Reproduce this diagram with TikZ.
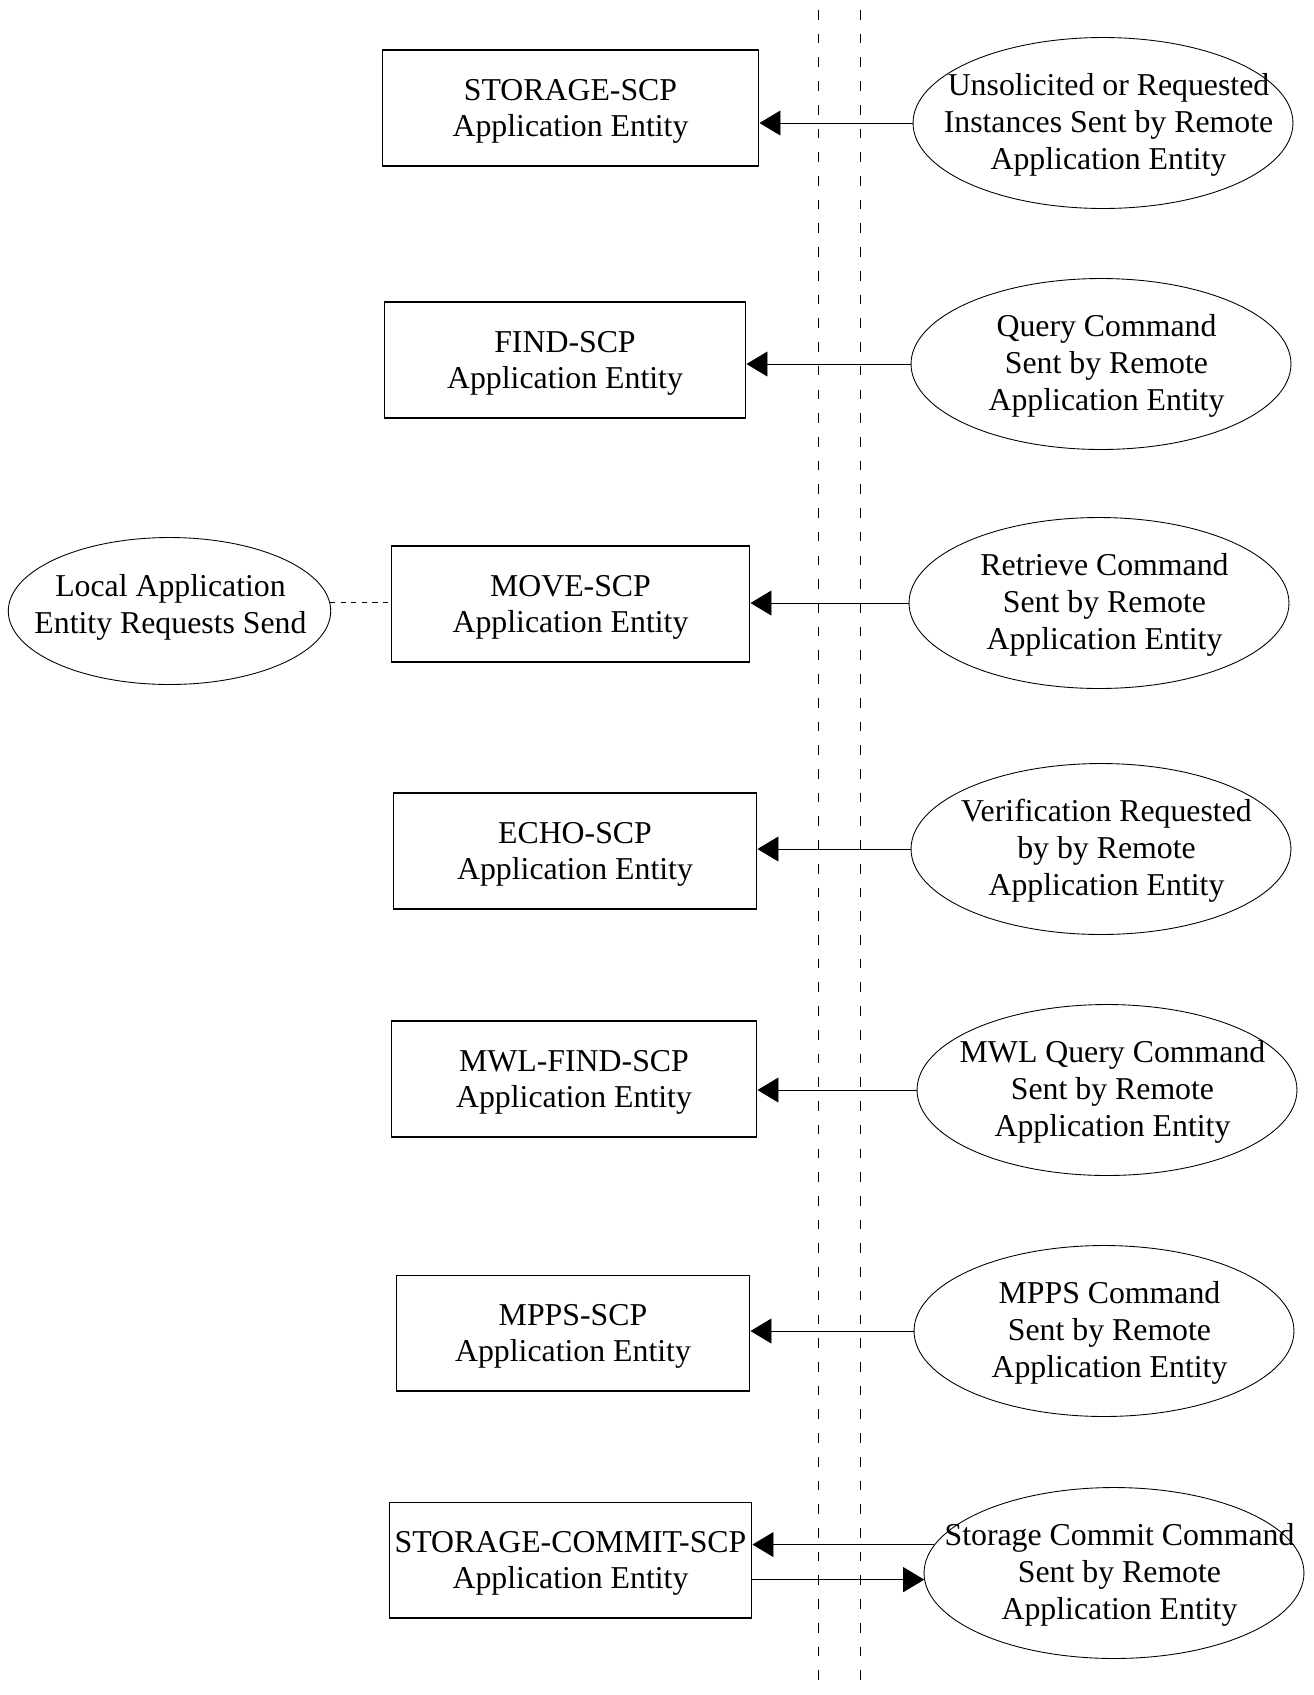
\documentclass[tikz,border=0pt]{standalone}
\usepackage{fontspec}
\setmainfont{Liberation Serif}
\usetikzlibrary{shapes.geometric, arrows.meta}
% text inside an ellipse should not widen it: #1 = shift right, #2 = raise
\newcommand{\elltext}[3]{\makebox[0pt]{\hspace{#1}\raisebox{#2}[\height][\depth]{\begin{tabular}{@{}c@{}}#3\end{tabular}}}}
\newcommand{\remtext}[1]{\elltext{0.22cm}{-1.4pt}{#1}}

\begin{document}
\begin{tikzpicture}[x=0.02cm, y=-0.02cm,
	font=\fontsize{18.1}{21}\selectfont,
	aebox/.style={draw, line width=0.6pt, align=center, minimum height=2.32cm, inner sep=2pt, text depth=-3.4pt, execute at begin node={\rule{0pt}{17.5pt}}},
	remote/.style={draw, ellipse, line width=0.5pt, minimum width=7.6cm, minimum height=3.42cm, inner sep=0pt},
	msg/.style={line width=0.5pt, -{Triangle[length=4.2mm, width=5mm]}}]
\useasboundingbox (0,0) rectangle (1314,1695);

% network boundary
\foreach \x in {818,860}{
	\draw[line width=0.5pt, dash pattern=on 5.5pt off 8pt](\x,10)--(\x,1690);
}

% local application entities
\node[aebox, minimum width=7.54cm] (storage) at (570.5,108) {STORAGE-SCP\\Application Entity};
\node[aebox, minimum width=7.24cm] (find) at (565,360) {FIND-SCP\\Application Entity};
\node[aebox, minimum width=7.18cm] (move) at (570.5,604) {MOVE-SCP\\Application Entity};
\node[aebox, minimum width=7.28cm] (echo) at (575,851) {ECHO-SCP\\Application Entity};
\node[aebox, minimum width=7.32cm] (mwl) at (574,1079) {MWL-FIND-SCP\\Application Entity};
\node[aebox, minimum width=7.08cm] (mpps) at (573,1333) {MPPS-SCP\\Application Entity};
\node[aebox, minimum width=7.26cm] (commit) at (570.5,1560) {STORAGE-COMMIT-SCP\\Application Entity};

% real-world activities
\node[remote, minimum width=6.45cm, minimum height=2.94cm] (localsend) at (169.5,611) {\elltext{0.04cm}{1.7pt}{Local Application\\Entity Requests Send}};
\node[remote] (unsolicited) at (1103,123) {\remtext{Unsolicited or Requested\\Instances Sent by Remote\\Application Entity}};
\node[remote] (query) at (1101,364) {\remtext{Query Command\\Sent by Remote\\Application Entity}};
\node[remote] (retrieve) at (1099,603) {\remtext{Retrieve Command\\Sent by Remote\\Application Entity}};
\node[remote] (verify) at (1101,849) {\remtext{Verification Requested\\by by Remote\\Application Entity}};
\node[remote] (mwlquery) at (1107,1090) {\remtext{MWL Query Command\\Sent by Remote\\Application Entity}};
\node[remote] (mppscmd) at (1104,1331) {\remtext{MPPS Command\\Sent by Remote\\Application Entity}};
\node[remote] (commitcmd) at (1114,1573) {\remtext{Storage Commit Command\\Sent by Remote\\Application Entity}};

% associations
\draw[msg] (unsolicited.west) -- (unsolicited.west -| storage.east);
\draw[msg] (query.west) -- (query.west -| find.east);
\draw[msg] (retrieve.west) -- (retrieve.west -| move.east);
\draw[msg] (verify.west) -- (verify.west -| echo.east);
\draw[msg] (mwlquery.west) -- (mwlquery.west -| mwl.east);
\draw[msg] (mppscmd.west) -- (mppscmd.west -| mpps.east);
\draw[msg] (commitcmd.171) -- (commitcmd.171 -| commit.east);
\draw[msg] (commitcmd.182 -| commit.east) -- (commitcmd.182);
\draw[line width=0.5pt, dashed] (localsend.3) -- (localsend.3 -| move.west);
\end{tikzpicture}
\end{document}
